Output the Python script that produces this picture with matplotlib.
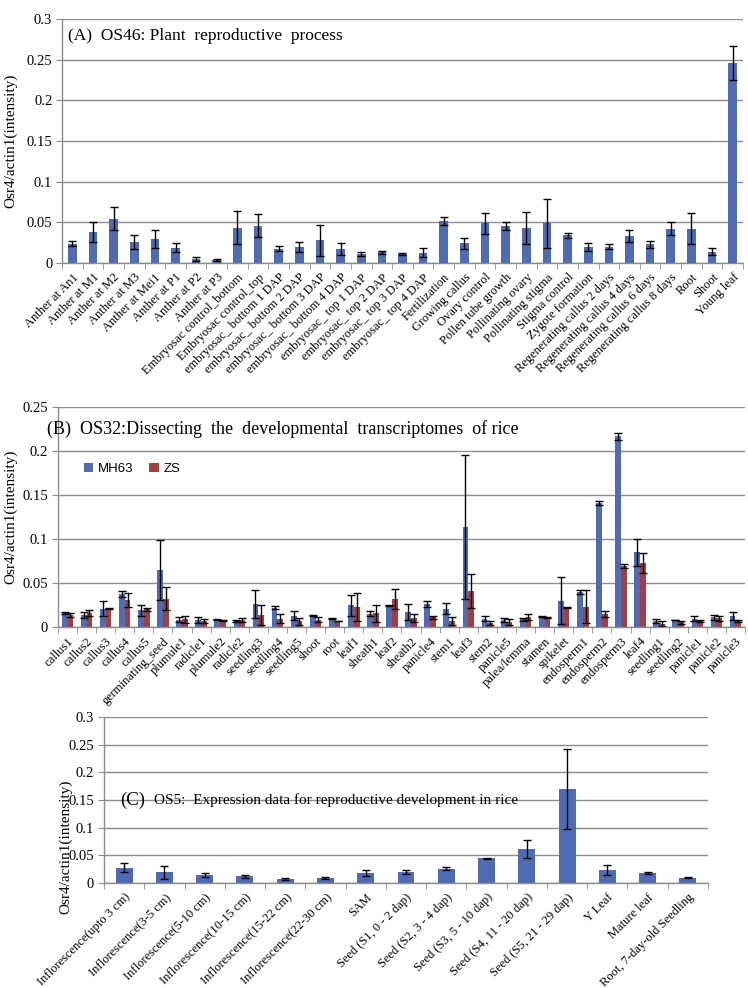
import numpy as np
import matplotlib
matplotlib.use('Agg')
import matplotlib.pyplot as plt

plt.rcParams['font.family'] = ['Liberation Serif', 'DejaVu Serif']

blue = '#4F6BB4'
red = '#A1403E'
grid_col = '#8C8C8C'

# ---- panel A data
a_labels = ['Anther at An1', 'Anther at M1', 'Anther at M2', 'Anther at M3', 'Anther at Mei1',
            'Anther at P1', 'Anther at P2', 'Anther at P3', 'Embryosac control_bottom',
            'Embryosac control_top', 'embryosac_ bottom 1 DAP', 'embryosac_ bottom 2 DAP',
            'embryosac_ bottom 3 DAP', 'embryosac_ bottom 4 DAP', 'embryosac_ top 1 DAP',
            'embryosac_ top 2 DAP', 'embryosac_ top 3 DAP', 'embryosac_ top 4 DAP',
            'Fertilization', 'Growing callus', 'Ovary control', 'Pollen tube growth',
            'Pollinating ovary', 'Pollinating stigma', 'Stigma control', 'Zygote formation',
            'Regenerating callus 2 days', 'Regenerating callus 4 days',
            'Regenerating callus 6 days', 'Regenerating callus 8 days', 'Root', 'Shoot', 'Young leaf']
a_vals = [0.0236, 0.038, 0.0545, 0.026, 0.029, 0.019, 0.005, 0.004, 0.0434, 0.046,
          0.0174, 0.020, 0.028, 0.0174, 0.011, 0.0132, 0.011, 0.0128, 0.052, 0.024,
          0.049, 0.046, 0.043, 0.049, 0.034, 0.020, 0.020, 0.033, 0.023, 0.042,
          0.042, 0.014, 0.246]
a_err = [0.003, 0.012, 0.014, 0.009, 0.011, 0.006, 0.002, 0.0015, 0.02, 0.014,
         0.003, 0.006, 0.019, 0.007, 0.002, 0.002, 0.001, 0.006, 0.005, 0.007,
         0.013, 0.005, 0.02, 0.03, 0.003, 0.005, 0.003, 0.007, 0.004, 0.008,
         0.019, 0.004, 0.021]

# ---- panel B data
b_labels = ['callus1', 'callus2', 'callus3', 'callus4', 'callus5', 'germinating_seed',
            'plumule1', 'radicle1', 'plumule2', 'radicle2', 'seedling3', 'seedling4',
            'seedling5', 'shoot', 'root', 'leaf1', 'sheath1', 'leaf2', 'sheath2', 'panicle4',
            'stem1', 'leaf3', 'stem2', 'panicle5', 'palea/lemma', 'stamen', 'spikelet',
            'endosperm1', 'endosperm2', 'endosperm3', 'leaf4', 'seedling1', 'seedling2',
            'panicle1', 'panicle2', 'panicle3']
mh63 = [0.016, 0.0136, 0.021, 0.0375, 0.019, 0.065, 0.0083, 0.008, 0.0083, 0.0068,
        0.026, 0.022, 0.013, 0.013, 0.0098, 0.0246, 0.015, 0.024, 0.0167, 0.026,
        0.021, 0.1136, 0.0095, 0.008, 0.0087, 0.0117, 0.030, 0.040, 0.141, 0.2167,
        0.0848, 0.0068, 0.008, 0.0095, 0.011, 0.0125]
mh63_err = [0.001, 0.003, 0.009, 0.003, 0.006, 0.034, 0.003, 0.003, 0.0005, 0.001,
            0.016, 0.002, 0.005, 0.001, 0.0005, 0.012, 0.003, 0.0005, 0.009, 0.003,
            0.006, 0.082, 0.003, 0.002, 0.002, 0.0005, 0.027, 0.002, 0.002, 0.004,
            0.015, 0.002, 0.0005, 0.003, 0.003, 0.004]
zs = [0.0136, 0.016, 0.021, 0.031, 0.020, 0.032, 0.009, 0.0068, 0.0075, 0.008,
      0.0136, 0.0095, 0.0064, 0.0083, 0.0068, 0.023, 0.0155, 0.032, 0.0102, 0.011,
      0.0068, 0.041, 0.0045, 0.0057, 0.0114, 0.0106, 0.0223, 0.023, 0.0148, 0.069,
      0.0727, 0.0038, 0.0053, 0.0064, 0.0098, 0.007]
zs_err = [0.002, 0.003, 0.0003, 0.008, 0.002, 0.013, 0.004, 0.002, 0.0005, 0.002,
          0.011, 0.005, 0.004, 0.003, 0.0005, 0.016, 0.010, 0.011, 0.004, 0.002,
          0.004, 0.019, 0.002, 0.003, 0.003, 0.0005, 0.0005, 0.019, 0.003, 0.002,
          0.011, 0.003, 0.002, 0.001, 0.003, 0.001]

# ---- panel C data
c_labels = ['Inflorescence(upto 3 cm)', 'Inflorescence(3-5 cm)', 'Inflorescence(5-10 cm)',
            'Inflorescence(10-15 cm)', 'Inflorescence(15-22 cm)', 'Inflorescence(22-30 cm)',
            'SAM', 'Seed (S1, 0 - 2 dap)', 'Seed (S2, 3 - 4 dap)', 'Seed (S3, 5 - 10 dap)',
            'Seed (S4, 11 - 20 dap)', 'Seed (S5, 21 - 29 dap)', 'Y Leaf', 'Mature leaf',
            'Root, 7-day-old Seedling']
c_vals = [0.0277, 0.0193, 0.0139, 0.012, 0.0072, 0.009, 0.018, 0.0199, 0.026, 0.045,
          0.0614, 0.170, 0.024, 0.018, 0.0096]
c_err = [0.008, 0.012, 0.004, 0.003, 0.001, 0.002, 0.005, 0.004, 0.003, 0.001,
         0.016, 0.073, 0.009, 0.001, 0.001]


def style_axes(ax, labels, ymax, step):
    n = len(labels)
    ax.set_xlim(-0.5, n - 0.5)
    ax.set_ylim(0, ymax)
    ticks = np.arange(0, ymax + step / 2, step)
    ax.set_yticks(ticks)
    ax.set_yticklabels(['%g' % round(t, 3) for t in ticks], fontsize=10.5)
    ax.yaxis.grid(True, color=grid_col, linewidth=1)
    ax.set_axisbelow(True)
    for s in ['top', 'right']:
        ax.spines[s].set_visible(False)
    for s in ['left', 'bottom']:
        ax.spines[s].set_color(grid_col)
        ax.spines[s].set_linewidth(1)
    ax.set_xticks(np.arange(n))
    ax.set_xticklabels(labels, rotation=45, ha='right', rotation_mode='anchor', fontsize=9)
    ax.tick_params(axis='x', which='major', length=0, pad=6)
    ax.set_xticks(np.arange(n + 1) - 0.5, minor=True)
    ax.tick_params(axis='x', which='minor', length=4, color=grid_col)
    ax.tick_params(axis='y', length=4, color=grid_col, pad=3)
    ax.set_ylabel('Osr4/actin1(intensity)', fontsize=11)


fig = plt.figure(figsize=(7.48, 9.88), dpi=100)
err_kw = dict(ecolor='black', elinewidth=1, capsize=3, capthick=1)

# (A)
axA = fig.add_axes([0.0829, 0.7338, 0.9104, 0.2470])
xa = np.arange(len(a_labels))
axA.bar(xa, a_vals, width=0.42, color=blue, yerr=a_err, error_kw=err_kw)
style_axes(axA, a_labels, 0.3, 0.05)
axA.yaxis.set_label_coords(-0.066, 0.5)
axA.text(0.009, 0.93, '(A)  OS46: Plant  reproductive  process', transform=axA.transAxes,
         fontsize=12.5, va='center')

# (B)
axB = fig.add_axes([0.0775, 0.3654, 0.9185, 0.2227])
xb = np.arange(len(b_labels))
w = 0.3
axB.bar(xb - w / 2, mh63, width=w, color=blue, yerr=mh63_err, error_kw=err_kw, label='MH63')
axB.bar(xb + w / 2, zs, width=w, color=red, yerr=zs_err, error_kw=err_kw, label='ZS')
style_axes(axB, b_labels, 0.25, 0.05)
axB.yaxis.set_label_coords(-0.059, 0.5)
axB.text(-0.016, 0.9, '(B)  OS32:Dissecting  the  developmental  transcriptomes  of rice',
         transform=axB.transAxes, fontsize=13, va='center')
leg = axB.legend(loc='upper left', bbox_to_anchor=(0.02, 0.80), ncol=2, frameon=False,
                 prop={'family': 'Liberation Sans', 'size': 9.5}, handlelength=0.7,
                 handleheight=0.7, handletextpad=0.4, columnspacing=1.2)

# (C)
axC = fig.add_axes([0.1390, 0.1063, 0.8075, 0.1680])
xc = np.arange(len(c_labels))
axC.bar(xc, c_vals, width=0.42, color=blue, yerr=c_err, error_kw=err_kw)
style_axes(axC, c_labels, 0.3, 0.05)
axC.yaxis.set_label_coords(-0.052, 0.22)
axC.text(0.027, 0.5, '(C)', transform=axC.transAxes, fontsize=13.5, va='center')
axC.text(0.083, 0.5, 'OS5:  Expression data for reproductive development in rice',
         transform=axC.transAxes, fontsize=11, va='center')

fig.savefig('out.png', dpi=100)
